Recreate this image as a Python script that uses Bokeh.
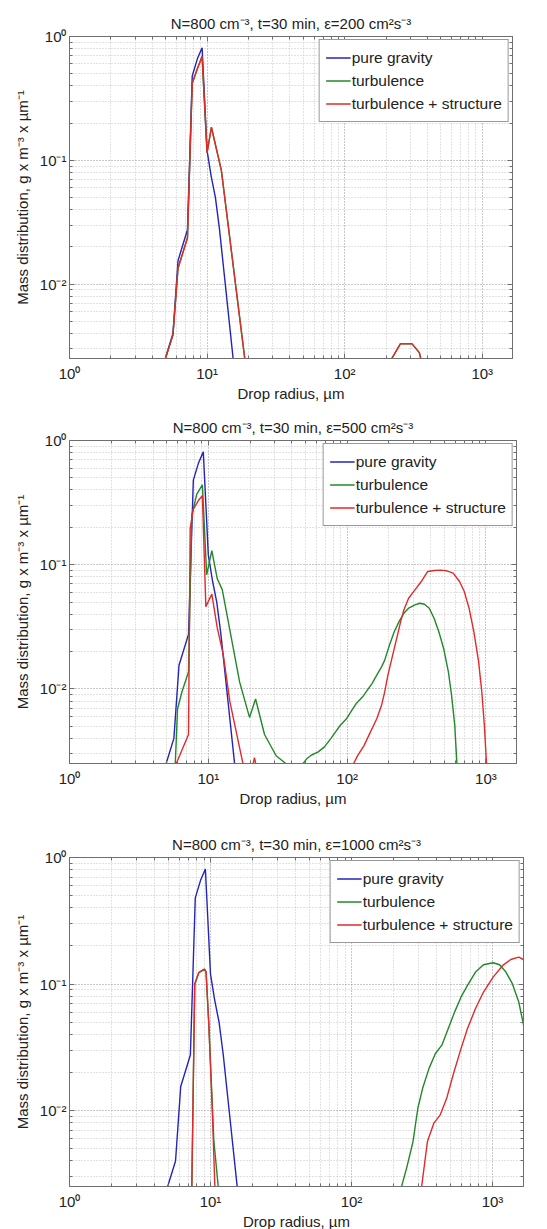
import math
from bokeh.plotting import figure
from bokeh.models import (Range1d, FixedTicker, CustomJSTickFormatter, LogAxis,
                          Legend, LegendItem)
from bokeh.layouts import column
from bokeh.embed import file_html
from bokeh.resources import INLINE

NAN = float("nan")

# ---------------- data ----------------
titles = [
    "N=800 cm\u207b\u00b3, t=30 min, \u03b5=200 cm\u00b2s\u207b\u00b3",
    "N=800 cm\u207b\u00b3, t=30 min, \u03b5=500 cm\u00b2s\u207b\u00b3",
    "N=800 cm\u207b\u00b3, t=30 min, \u03b5=1000 cm\u00b2s\u207b\u00b3",
]
series_names = ["pure gravity", "turbulence", "turbulence + structure"]
x_label = "Drop radius, \u00b5m"
y_label = "Mass distribution, g x m\u207b\u00b3 x \u00b5m\u207b\u00b9"

# pure gravity (identical in all panels)
grav_r = [4.6, 5.65, 6.15, 7.2, 7.8, 8.5, 9.2, 10.0, 10.7, 11.5, 12.3, 15.8]
grav_v = [0.0019, 0.0040, 0.0155, 0.0275, 0.48, 0.66, 0.81, 0.12, 0.075, 0.05, 0.028, 0.0020]

# panel 1 (eps=200): turbulence and turbulence+structure coincide
p1_turb_r = [4.6, 5.65, 6.15, 7.2, 7.8, 8.5, 9.2, 10.0, 10.75, 12.7, 19.5,
             NAN, 200, 215, 254, 309, 349, 380]
p1_turb_v = [0.0019, 0.0039, 0.0135, 0.0236, 0.42, 0.55, 0.69, 0.115, 0.185, 0.083, 0.0018,
             NAN, 0.0021, 0.0024, 0.0033, 0.0033, 0.0028, 0.0019]
p1_struct_r = p1_turb_r
p1_struct_v = p1_turb_v

# panel 2 (eps=500)
p2_turb_r = [5.7, 6.0, 6.46, 7.2, 7.6, 8.26, 9.06, 9.73, 10.6, 11.6, 12.6, 16.8, 19.8, 21.9,
             25.4, 30.8, 36.3, 41.0, 47.2, 51.1, 55.4, 61.5, 68.4, 76.0, 82.3, 89.0, 98.9,
             110.0, 115.9, 128.9, 139.5, 151.0, 163.5, 176.9, 186.5, 201.8, 218.5, 236.5,
             256.1, 277.2, 308.0, 333.4, 360.9, 390.6, 422.9, 457.8, 495.5, 536.3, 565.4,
             596.1, 618.4, 640.0]
p2_turb_v = [0.0017, 0.0069, 0.0095, 0.0137, 0.25, 0.37, 0.44, 0.083, 0.13, 0.077, 0.063,
             0.0114, 0.0059, 0.0083, 0.0043, 0.0029, 0.0025, 0.0020, 0.00244, 0.00274,
             0.00294, 0.0031, 0.0034, 0.00397, 0.00449, 0.00508, 0.00575, 0.00693, 0.0076,
             0.00861, 0.00975, 0.01104, 0.01291, 0.01507, 0.01706, 0.02256, 0.0289, 0.03483,
             0.04065, 0.04467, 0.04751, 0.049, 0.04809, 0.04467, 0.03707, 0.0289, 0.02118,
             0.01371, 0.00889, 0.00508, 0.00244, 0.0015]
p2_struct_r = [5.6, 5.87, 7.2, 7.4, 7.8, 8.5, 9.06, 9.6, 10.6, 11.6, 12.8, 14.3, 18.2,
               NAN, 20.5, 21.5, 22.5,
               NAN, 106.0, 110.0, 119.0, 132.3, 147.0, 163.5, 176.9, 186.5, 196.6, 212.8,
               230.4, 242.9, 256.1, 277.2, 308.0, 342.2, 380.4, 422.9, 469.9, 522.4, 580.5,
               645.0, 698.2, 755.6, 817.9, 885.4, 933.7, 973.9, 1010.6, 1030.0]
p2_struct_v = [0.0022, 0.0025, 0.0043, 0.195, 0.28, 0.33, 0.36, 0.046, 0.058, 0.031, 0.019,
               0.0079, 0.0022,
               NAN, 0.0022, 0.0028, 0.0022,
               NAN, 0.0021, 0.00244, 0.00291, 0.0035, 0.00449, 0.00575, 0.00738, 0.00946,
               0.01291, 0.01871, 0.02716, 0.03483, 0.04325, 0.0537, 0.06281, 0.07328, 0.08831,
               0.08995, 0.09057, 0.08936, 0.08566, 0.07328, 0.06081, 0.04467, 0.0289, 0.01652,
               0.00946, 0.00508, 0.00244, 0.0016]

# panel 3 (eps=1000)
p3_turb_r = [7.35, 7.73, 8.26, 9.06, 9.3, 9.73, 10.3, 10.56, 11.35, 11.6,
             NAN, 215.0, 221.6, 246.0, 273.2, 295.5, 319.6, 354.8, 393.9, 437.4, 485.8,
             539.4, 598.8, 664.9, 757.9, 863.6, 1010.5, 1122.0, 1246.0, 1383.0, 1536.0,
             1662.0, 1706.0]
p3_turb_v = [0.0020, 0.10, 0.123, 0.131, 0.125, 0.048, 0.011, 0.0058, 0.0025, 0.0020,
             NAN, 0.0019, 0.0023, 0.00351, 0.0057, 0.01043, 0.01499, 0.02155, 0.02827,
             0.03288, 0.04449, 0.06026, 0.07907, 0.09761, 0.1243, 0.142, 0.1472, 0.142,
             0.1243, 0.1006, 0.0721, 0.0473, 0.041]
p3_struct_r = [7.35, 7.73, 8.26, 9.06, 9.3, 9.73, 10.3, 10.8,
               NAN, 305.0, 311.3, 345.6, 383.7, 426.1, 473.2, 525.5, 598.8, 664.9, 757.9,
               863.6, 1010.5, 1182.0, 1348.0, 1536.0, 1706.0]
p3_struct_v = [0.0020, 0.10, 0.123, 0.131, 0.125, 0.048, 0.010, 0.0021,
               NAN, 0.0019, 0.0023, 0.0057, 0.00795, 0.00925, 0.0125, 0.0191, 0.031, 0.0445,
               0.064, 0.0865, 0.1135, 0.1403, 0.1563, 0.1633, 0.1535]

x_major = [1, 10, 100, 1000]
y_major = [0.01, 0.1, 1]
x_limits = (1.0, 10 ** 3.22)
y_limits = (10 ** -2.6, 1.0)

# ---------------- styling ----------------
FONT = "Liberation Sans"
TXT = "#222222"
AX = "#6e6e6e"
COLORS = ["#2424b8", "#22882a", "#e22a2a"]

SUP = ("var s={'-':'\\u207b','0':'\\u2070','1':'\\u00b9','2':'\\u00b2','3':'\\u00b3'};"
       "var e=Math.round(Math.log10(tick));"
       "return '10'+String(e).split('').map(function(c){return s[c];}).join('');")


def minor_list(lo, hi):
    return [m * 10.0 ** k for k in range(lo, hi) for m in range(2, 10)]


def make_ticker(major, lo, hi):
    return FixedTicker(ticks=major, minor_ticks=minor_list(lo, hi))


def style_axis(ax, labels=True):
    ax.axis_line_color = AX
    ax.major_tick_line_color = AX
    ax.minor_tick_line_color = AX
    ax.major_tick_in = 5
    ax.major_tick_out = 0
    ax.minor_tick_in = 3
    ax.minor_tick_out = 0
    if labels:
        ax.major_label_text_font = FONT
        ax.major_label_text_font_size = "15px"
        ax.major_label_text_color = TXT
        ax.axis_label_text_font = FONT
        ax.axis_label_text_font_size = "15px"
        ax.axis_label_text_font_style = "normal"
        ax.axis_label_text_color = TXT


def make_panel(title, data, fw, fh, bl, br, bt, bb, xstand, xlstand):
    p = figure(x_axis_type="log", y_axis_type="log",
               x_range=Range1d(*x_limits), y_range=Range1d(*y_limits),
               frame_width=fw, frame_height=fh,
               min_border_left=bl, min_border_right=br,
               min_border_top=bt, min_border_bottom=bb,
               toolbar_location=None, output_backend="svg",
               background_fill_color="white", border_fill_color="white")
    p.title.text = title
    p.title.align = "center"
    p.title.text_font = FONT
    p.title.text_font_size = "15px"
    p.title.text_font_style = "normal"
    p.title.text_color = TXT
    p.title.standoff = 9

    xt = make_ticker(x_major, 0, 4)
    yt = make_ticker(y_major, -3, 0)
    p.xaxis.ticker = xt
    p.yaxis.ticker = yt
    p.xaxis.formatter = CustomJSTickFormatter(code=SUP)
    p.yaxis.formatter = CustomJSTickFormatter(code=SUP)
    p.xaxis.axis_label = x_label
    p.yaxis.axis_label = y_label
    style_axis(p.xaxis[0])
    style_axis(p.yaxis[0])
    p.xaxis.major_label_standoff = xstand
    p.xaxis.axis_label_standoff = xlstand
    p.yaxis.major_label_standoff = 3
    p.yaxis.axis_label_standoff = 6

    top = LogAxis(ticker=xt, formatter=CustomJSTickFormatter(code="return '';"),
                  major_label_standoff=0, major_label_text_font_size="1px")
    right = LogAxis(ticker=yt, formatter=CustomJSTickFormatter(code="return '';"),
                    major_label_standoff=0, major_label_text_font_size="1px")
    style_axis(top, labels=False)
    style_axis(right, labels=False)
    p.add_layout(top, "above")
    p.add_layout(right, "right")

    for g in (p.xgrid[0], p.ygrid[0]):
        g.grid_line_color = "#909090"
        g.grid_line_dash = "1 2"
        g.grid_line_width = 1
        g.minor_grid_line_color = "#c4c4c4"
        g.minor_grid_line_dash = "1 2"
        g.minor_grid_line_width = 1

    p.outline_line_color = AX
    p.outline_line_width = 1

    items = []
    for (xs, ys), name, col in zip(data, series_names, COLORS):
        r = p.line(xs, ys, line_color=col, line_width=1.4)
        items.append(LegendItem(label=name, renderers=[r]))

    leg = Legend(items=items, location="top_right", margin=3, padding=6, spacing=0,
                 glyph_width=25, glyph_height=23, label_height=23, label_standoff=1,
                 label_text_font=FONT, label_text_font_size="15.5px", label_text_color=TXT,
                 border_line_color="#333333", border_line_width=1,
                 background_fill_color="white", background_fill_alpha=1.0)
    p.add_layout(leg)
    return p


p1 = make_panel(titles[0], [(grav_r, grav_v), (p1_turb_r, p1_turb_v), (p1_struct_r, p1_struct_v)],
                443, 322, 61, 43, 36, 45, 6, 0)
p2 = make_panel(titles[1], [(grav_r, grav_v), (p2_turb_r, p2_turb_v), (p2_struct_r, p2_struct_v)],
                447, 323, 69, 31, 36, 50, 6, 0)
p3 = make_panel(titles[2], [(grav_r, grav_v), (p3_turb_r, p3_turb_v), (p3_struct_r, p3_struct_v)],
                454, 329, 68, 25, 44, 44, 6, 0)

layout = column(p1, p2, p3, spacing=0)
open("out.html", "w").write(file_html(layout, INLINE))
